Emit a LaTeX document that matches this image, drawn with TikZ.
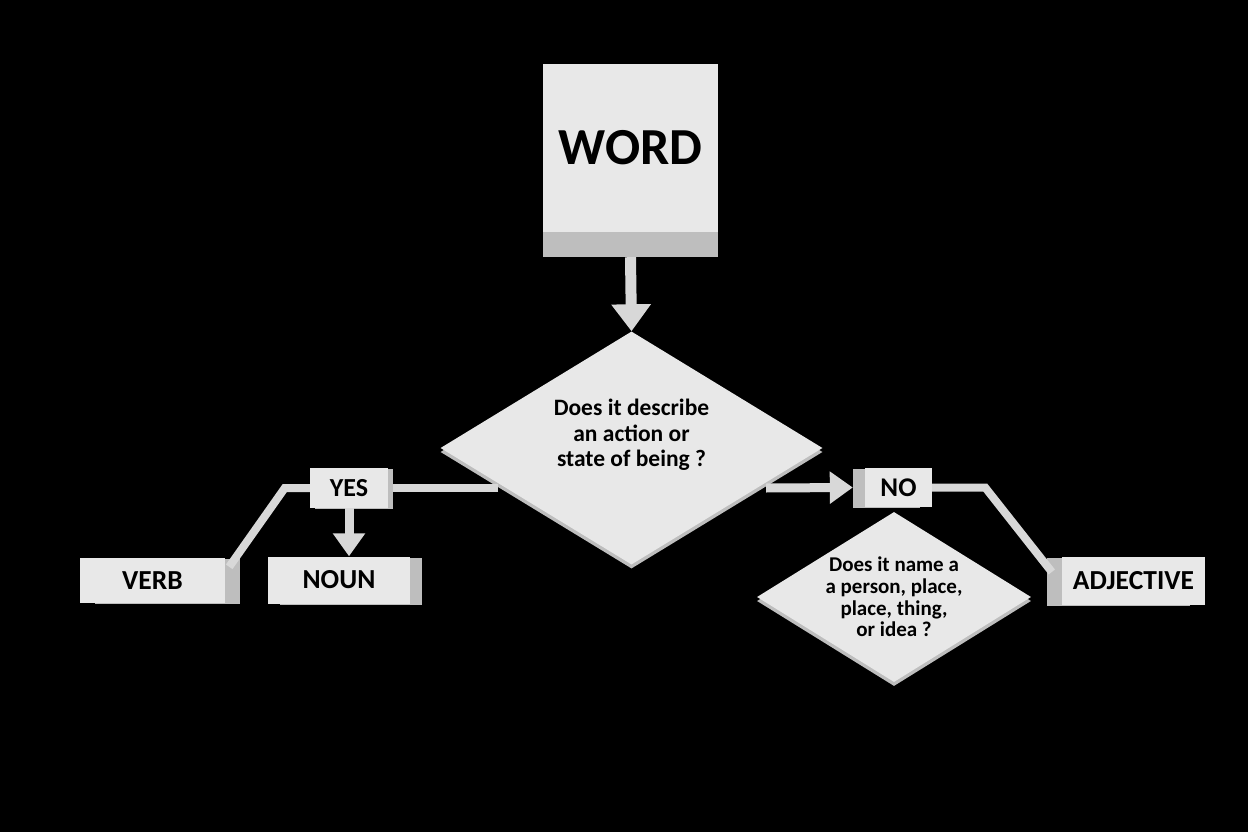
\documentclass[tikz,border=0pt]{standalone}
\usepackage{fontspec}
\setmainfont{Carlito}
\usetikzlibrary{shapes.geometric}
\usetikzlibrary{arrows.meta}
\usetikzlibrary{shadows}
\definecolor{face}{HTML}{E8E8E8}
\definecolor{bevel}{HTML}{BEBEBE}
\definecolor{wire}{HTML}{D8D8D8}

\begin{document}
\begin{tikzpicture}[x=1pt, y=-1pt]
	    \tikzstyle{block}=[rectangle, fill=face, inner sep=0pt, text=black, font=\bfseries\fontsize{27.5}{30}\selectfont]
	    \tikzstyle{bevel right}=[drop shadow={shadow xshift=#1, shadow yshift=-1pt, fill=bevel, opacity=1}]
	    \tikzstyle{bevel left}=[drop shadow={shadow xshift=-#1, shadow yshift=-1pt, fill=bevel, opacity=1}]
	    \tikzstyle{question}=[diamond, fill=face, inner sep=0pt, aspect=1.6, drop shadow={shadow xshift=0pt, shadow yshift=-4pt, fill=bevel, opacity=1}]
	    \tikzstyle{qtext}=[align=center, text=black, inner sep=0pt]
	    \tikzstyle{link}=[draw=wire, line width=8pt]
	    \tikzstyle{arrow}=[draw=wire, line width=11pt, -{Triangle[width=38pt,length=27pt]}]
	    \tikzstyle{arrow small}=[draw=wire, line width=9pt, -{Triangle[width=31pt,length=23pt]}]
	    \fill[black] (0,0) rectangle (1248,832);
	    \useasboundingbox (0,0) rectangle (1248,832);
	    % nodes
	    \node[block, minimum width=175pt, minimum height=168pt, font=\bfseries\fontsize{52}{60}\selectfont,
	          drop shadow={shadow xshift=0pt, shadow yshift=-25pt, fill=bevel, opacity=1}] (word) at (630.5,148) {WORD};
	    \node[question, minimum width=382pt, minimum height=233pt] (q1) at (631.5,448) {};
	    \node[qtext, font=\bfseries\fontsize{23.5}{25.5}\selectfont] (q1text) at ([yshift=13pt]q1.center) {Does it describe\\an action or\\state of being ?};
	    \node[block, bevel right=5pt, minimum width=78pt, minimum height=40pt, font=\bfseries\fontsize{26}{28}\selectfont] (yes) at (349,488) {YES};
	    \node[block, bevel left=12pt, minimum width=67pt, minimum height=39pt, font=\bfseries\fontsize{27}{28}\selectfont] (no) at (898.5,487.5) {NO};
	    \node[block, bevel right=15pt, minimum width=145pt, minimum height=45pt] (verb) at (152.5,580.5) {VERB};
	    \node[block, bevel right=12pt, minimum width=142pt, minimum height=47pt] (noun) at (339,580) {NOUN};
	    \node[block, bevel left=15pt, minimum width=143pt, minimum height=48pt] (adj) at (1133.5,581) {ADJECTIVE};
	    \node[question, minimum width=274pt, minimum height=170pt] (q2) at (894,597) {};
	    \node[qtext, font=\bfseries\fontsize{21}{21.7}\selectfont] (q2text) at (q2.center) {Does it name a\\a person, place,\\place, thing,\\or idea ?};
	    % free ends beside the first question
	    \coordinate (yesend) at (498,488);
	    \coordinate (noend) at (766,488);
	    % connectors
	    \draw[arrow] ([yshift=-25pt]word.south) -- (q1.north);
	    \draw[link] (yesend) -- ([xshift=5pt]yes.east);
	    \draw[link] (yes.west) -- ++(-25,0) -- ([xshift=4pt,yshift=-9pt]verb.north east);
	    \draw[arrow small] (yes.south) -- (yes.south |- noun.north);
	    \draw[arrow small] (noend) -- ([xshift=-12pt]no.west);
	    \draw[link] (no.east) -- ++(53,0) -- ([xshift=-10pt,yshift=9pt]adj.west);
\end{tikzpicture}
\end{document}
